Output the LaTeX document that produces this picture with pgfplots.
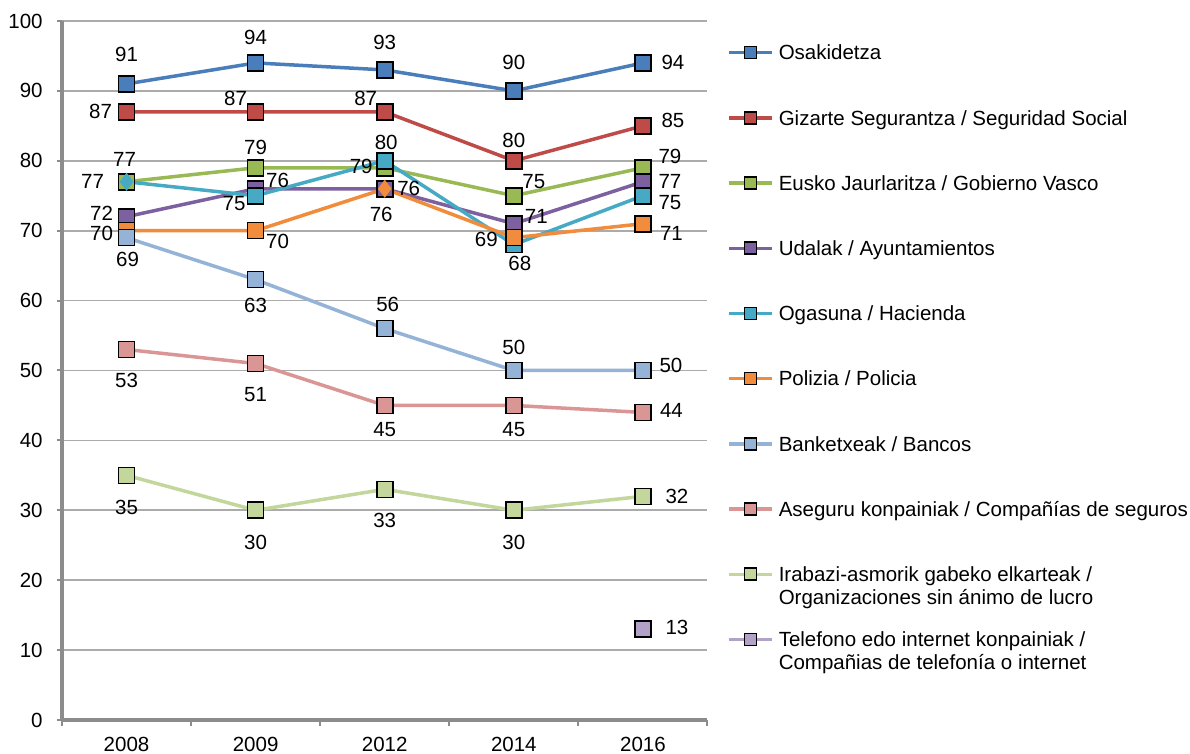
\documentclass[border=0pt]{standalone}
\usepackage{fontspec}
\setmainfont{Liberation Sans}
\usepackage{pgfplots}
\usepackage{pgfplotstable}
\pgfplotsset{compat=1.18}

\definecolor{cOsa}{HTML}{4A7EBB}
\definecolor{cGiz}{HTML}{BE4B48}
\definecolor{cEus}{HTML}{98B954}
\definecolor{cUda}{HTML}{7D60A0}
\definecolor{cOga}{HTML}{46AAC5}
\definecolor{cPol}{HTML}{F08C3C}
\definecolor{cBan}{HTML}{95B3D7}
\definecolor{cAse}{HTML}{D99694}
\definecolor{cIra}{HTML}{C3D69B}
\definecolor{cTel}{HTML}{B3A2C7}
\definecolor{gridgray}{HTML}{ABABAB}
\definecolor{axgray}{HTML}{8C8C8C}

\newcommand{\lblfont}{\fontsize{10.25}{12.3}\selectfont}

% x: category index, y: value, dx/dy: label offset in pt
\pgfplotstableread{
x y dx dy
0 91 0 14.75
1 94 0 12.65
2 93 0 13.85
3 90 0 14.15
4 94 15 0
}\osa
\pgfplotstableread{
x y dx dy
0 87 -13 0
1 87 -10 6.5
2 87 -9.5 6.5
3 80 0 10
4 85 15 2.5
}\giz
\pgfplotstableread{
x y dx dy
0 77 -1 11.25
1 79 0 10
2 79 -11.75 0.5
3 75 10 7
4 79 13.5 5.5
}\eus
\pgfplotstableread{
x y dx dy
0 72 -12.5 1.75
1 76 11 4
2 76 12 0
3 71 11.25 3.5
4 77 13.5 0
}\uda
\pgfplotstableread{
x y dx dy
0 77 -17 0
1 75 -10.75 -4
2 80 0.75 9
3 68 3 -9.5
4 75 13.5 -3.5
}\oga
\pgfplotstableread{
x y dx dy
0 70 -12.5 -1.5
1 70 11 -5.5
2 76 -1.75 -13
3 69 -13.75 -1
4 71 14.25 -5
}\pol
\pgfplotstableread{
x y dx dy
0 69 0.5 -11
1 63 0 -12.7
2 56 1.5 12
3 50 0 11.65
4 50 14 2.5
}\ban
\pgfplotstableread{
x y dx dy
0 53 0 -15.35
1 51 0 -15.35
2 45 0 -11.85
3 45 0 -11.85
4 44 14.25 0.85
}\ase
\pgfplotstableread{
x y dx dy
0 35 0 -15.85
1 30 0 -15.85
2 33 0 -15.5
3 30 0 -15.85
4 32 17 0
}\ira
\pgfplotstableread{
x y dx dy
4 13 17 1
}\tel

\pgfplotsset{
  ser/.style={line width=1.75pt, color=#1, mark=square*, mark size=4pt,
    mark options={fill=#1, draw=black, line width=0.8pt, solid}},
  lbl/.style={forget plot, draw=none, mark=none, point meta=y,
    nodes near coords,
    visualization depends on={\thisrow{dx}\as\ldx},
    visualization depends on={\thisrow{dy}\as\ldy},
    nodes near coords style={font=\lblfont, text=black, inner sep=0pt,
      anchor=center, xshift=\ldx pt, yshift=\ldy pt}},
}

\begin{document}
\begin{tikzpicture}
\begin{axis}[
    scale only axis,
    width=322.75pt, height=349.5pt,
    xmin=-0.5, xmax=4.5,
    ymin=0, ymax=100,
    clip=false,
    axis x line*=bottom, axis y line*=left,
    axis line style={draw=axgray, line width=1.6pt},
    xtick={0,1,2,3,4},
    xticklabels={2008,2009,2012,2014,2016},
    minor xtick={-0.5,0.5,1.5,2.5,3.5,4.5},
    ytick={0,10,...,100},
    tick align=outside,
    major tick length=2.5pt, minor tick length=3pt,
    major x tick style={draw=none},
    minor x tick style={draw=axgray, line width=1pt},
    ytick style={draw=axgray, line width=1pt},
    ymajorgrids,
    grid style={draw=gridgray, line width=0.85pt},
    /pgf/number format/assume math mode=true,
    tick label style={font=\lblfont, text=black},
    yticklabel style={inner sep=0pt, xshift=-7pt},
    xticklabel style={inner sep=0pt, anchor=north, yshift=-5.8pt},
    legend style={draw=none, fill=none, at={(1.030,0.9657)}, anchor=north west,
      font=\lblfont, inner sep=0pt, row sep=25.3pt, column sep=2.5pt,
      nodes={inner sep=0pt, text height=7.3pt, text depth=0pt},
      cells={anchor=west}},
    legend image code/.code={\draw[mark repeat=2,mark phase=2]
      plot coordinates {(0pt,0pt) (10.75pt,0pt) (21.5pt,0pt)};},
    legend image post style={mark indices={2}, mark size=3pt},
]
\addplot[ser=cOsa] table[x=x,y=y] {\osa};
\addlegendentry{Osakidetza}
\addplot[ser=cGiz] table[x=x,y=y] {\giz};
\addlegendentry{Gizarte Segurantza / Seguridad Social}
\addplot[ser=cEus] table[x=x,y=y] {\eus};
\addlegendentry{Eusko Jaurlaritza / Gobierno Vasco}
\addplot[ser=cUda] table[x=x,y=y] {\uda};
\addlegendentry{Udalak / Ayuntamientos}
\addplot[ser=cOga, mark indices={2,3,4,5}] table[x=x,y=y] {\oga};
\addlegendentry{Ogasuna / Hacienda}
\addplot[ser=cPol, mark indices={1,2,4,5}] table[x=x,y=y] {\pol};
\addlegendentry{Polizia / Policia}
\addplot[ser=cBan] table[x=x,y=y] {\ban};
\addlegendentry{Banketxeak / Bancos}
\addplot[ser=cAse] table[x=x,y=y] {\ase};
\addlegendentry{Aseguru konpainiak / Compañías de seguros}
\addplot[ser=cIra] table[x=x,y=y] {\ira};
\addlegendentry{\parbox[t]{220pt}{\fontsize{10.25}{11.5}\selectfont Irabazi-asmorik gabeko elkarteak /\\Organizaciones sin ánimo de lucro}}
\addplot[ser=cTel] table[x=x,y=y] {\tel};
\addlegendentry{\parbox[t]{220pt}{\fontsize{10.25}{11.5}\selectfont Telefono edo internet konpainiak /\\Compañias de telefonía o internet}}

% diamond markers (Ogasuna 2008, Polizia 2012)
\addplot[forget plot, only marks, mark=diamond*, mark size=4.2pt,
  mark options={fill=cOga, draw=cOga}] coordinates {(0,77)};
\addplot[forget plot, only marks, mark=diamond*, mark size=4.2pt,
  mark options={fill=cPol, draw=cPol}] coordinates {(2,76)};

% data labels on top
\addplot[lbl] table[x=x,y=y] {\osa};
\addplot[lbl] table[x=x,y=y] {\giz};
\addplot[lbl] table[x=x,y=y] {\eus};
\addplot[lbl] table[x=x,y=y] {\uda};
\addplot[lbl] table[x=x,y=y] {\oga};
\addplot[lbl] table[x=x,y=y] {\pol};
\addplot[lbl] table[x=x,y=y] {\ban};
\addplot[lbl] table[x=x,y=y] {\ase};
\addplot[lbl] table[x=x,y=y] {\ira};
\addplot[lbl] table[x=x,y=y] {\tel};
\end{axis}
\pgfresetboundingbox
\path[use as bounding box] (-31pt,-17pt) rectangle (564pt,360pt);
\end{tikzpicture}
\end{document}
